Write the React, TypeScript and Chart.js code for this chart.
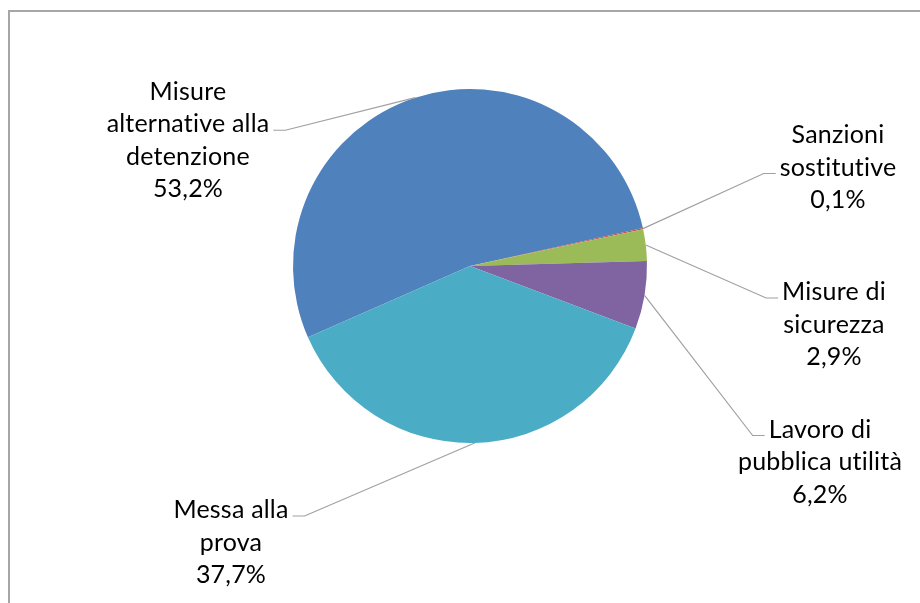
import React, { useEffect, useRef } from "react";
import { Chart, registerables } from "chart.js";

Chart.register(...registerables);

// ---- data ----
const categories: string[][] = [
  ["Misure", "alternative alla", "detenzione"],
  ["Sanzioni", "sostitutive"],
  ["Misure di", "sicurezza"],
  ["Lavoro di", "pubblica utilità"],
  ["Messa alla", "prova"],
];
const values: number[] = [53.2, 0.1, 2.9, 6.2, 37.7];
const colors: string[] = ["#4F81BD", "#C0504D", "#9BBB59", "#8064A2", "#4BACC6"];

// label placement (offset of label block centre from pie centre, in px at radius 177)
const labelLayout = [
  { dx: -282, dy: -125.5, line: 1, side: "right" },
  { dx: 368, dy: -98.5, line: 1, side: "left" },
  { dx: 364, dy: 58.5, line: 0, side: "left" },
  { dx: 350, dy: 196, line: 0, side: "left" },
  { dx: -239, dy: 276.5, line: 0, side: "right" },
];

const FONT = "25px Lato";
const LINE_H = 32.5;

const fmtPct = (v: number) => v.toFixed(1).replace(".", ",") + "%";

const framePlugin = {
  id: "frame",
  beforeDraw(chart: any) {
    const ctx = chart.ctx;
    ctx.save();
    ctx.fillStyle = "#ffffff";
    ctx.fillRect(0, 0, chart.width, chart.height);
    ctx.strokeStyle = "#a6a6a6";
    ctx.lineWidth = 2;
    ctx.beginPath();
    ctx.moveTo(9, chart.height + 5);
    ctx.lineTo(9, 11);
    ctx.lineTo(chart.width + 5, 11);
    ctx.stroke();
    ctx.restore();
  },
};

const labelPlugin = {
  id: "pieLabels",
  afterDraw(chart: any) {
    const ctx = chart.ctx;
    const meta = chart.getDatasetMeta(0);
    const data = chart.data.datasets[0].data as number[];
    ctx.save();
    ctx.font = FONT;
    try {
      (ctx as any).letterSpacing = "0.2px";
    } catch (e) {}
    ctx.textAlign = "center";
    ctx.textBaseline = "middle";
    meta.data.forEach((arc: any, i: number) => {
      const p = arc.getProps(["x", "y", "startAngle", "endAngle", "outerRadius"], true);
      const k = p.outerRadius / 177;
      const mid = (p.startAngle + p.endAngle) / 2;
      const ex = p.x + Math.cos(mid) * p.outerRadius;
      const ey = p.y + Math.sin(mid) * p.outerRadius;
      const lay = labelLayout[i];
      const cx = p.x + lay.dx * k;
      const cy = p.y + lay.dy * k;
      const lines = [...(chart.data.labels[i] as string[]), fmtPct(data[i])];
      const firstY = cy - ((lines.length - 1) / 2) * LINE_H;
      ctx.fillStyle = "#000000";
      lines.forEach((t, j) => ctx.fillText(t, cx, firstY + j * LINE_H));
      // leader line
      const w = ctx.measureText(lines[lay.line]).width;
      const ly = firstY + lay.line * LINE_H + 6;
      const sgn = lay.side === "right" ? 1 : -1;
      const x0 = cx + sgn * (w / 2 + 4);
      const x1 = x0 + sgn * 12;
      ctx.strokeStyle = "#a0a0a0";
      ctx.lineWidth = 1.2;
      ctx.beginPath();
      ctx.moveTo(x0, ly);
      ctx.lineTo(x1, ly);
      ctx.lineTo(ex, ey);
      ctx.stroke();
    });
    ctx.restore();
  },
};

export default function App() {
  const ref = useRef<HTMLCanvasElement | null>(null);
  useEffect(() => {
    if (!ref.current) return;
    const chart = new Chart(ref.current, {
      type: "pie",
      data: {
        labels: categories as any,
        datasets: [
          {
            data: values,
            backgroundColor: colors,
            borderWidth: 0,
          },
        ],
      },
      options: {
        responsive: false,
        animation: false,
        rotation: 246.3,
        layout: { padding: { left: 293, right: 273, top: 89, bottom: 160 } },
        plugins: {
          legend: { display: false },
          tooltip: { enabled: false },
        },
      },
      plugins: [framePlugin, labelPlugin],
    });
    return () => chart.destroy();
  }, []);
  return (
    <div style={{ position: "absolute", left: 0, top: 0, width: 920, height: 603, background: "#fff" }}>
      <canvas ref={ref} width={920} height={603} />
    </div>
  );
}
